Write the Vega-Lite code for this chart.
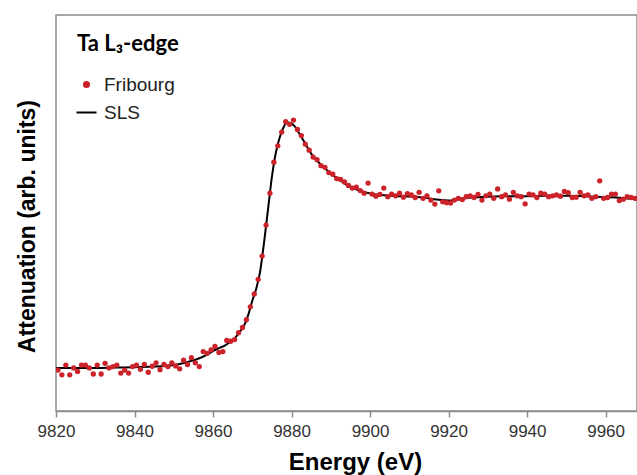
{
  "$schema": "https://vega.github.io/schema/vega-lite/v6.json",
  "width": 581,
  "height": 396,
  "autosize": {"type": "none"},
  "padding": {"left": 56, "top": 15, "right": 0, "bottom": 64},
  "background": "white",
  "config": {"view": {"stroke": "#8c8c8c", "strokeWidth": 1.5}, "font": "Liberation Sans"},
  "datasets": {
    "sls": [
      {"energy": 9820, "value": 0.0, "series": "SLS"},
      {"energy": 9825, "value": 0.0, "series": "SLS"},
      {"energy": 9830, "value": 0.0, "series": "SLS"},
      {"energy": 9835, "value": 0.002, "series": "SLS"},
      {"energy": 9840, "value": 0.004, "series": "SLS"},
      {"energy": 9845, "value": 0.008, "series": "SLS"},
      {"energy": 9848, "value": 0.012, "series": "SLS"},
      {"energy": 9850, "value": 0.017, "series": "SLS"},
      {"energy": 9852, "value": 0.026, "series": "SLS"},
      {"energy": 9854, "value": 0.038, "series": "SLS"},
      {"energy": 9856, "value": 0.052, "series": "SLS"},
      {"energy": 9858, "value": 0.072, "series": "SLS"},
      {"energy": 9860, "value": 0.098, "series": "SLS"},
      {"energy": 9861, "value": 0.11, "series": "SLS"},
      {"energy": 9862, "value": 0.12, "series": "SLS"},
      {"energy": 9863, "value": 0.13, "series": "SLS"},
      {"energy": 9864, "value": 0.145, "series": "SLS"},
      {"energy": 9865, "value": 0.163, "series": "SLS"},
      {"energy": 9866, "value": 0.185, "series": "SLS"},
      {"energy": 9867, "value": 0.215, "series": "SLS"},
      {"energy": 9868, "value": 0.25, "series": "SLS"},
      {"energy": 9869, "value": 0.31, "series": "SLS"},
      {"energy": 9870, "value": 0.39, "series": "SLS"},
      {"energy": 9871, "value": 0.46, "series": "SLS"},
      {"energy": 9872, "value": 0.56, "series": "SLS"},
      {"energy": 9873, "value": 0.73, "series": "SLS"},
      {"energy": 9874, "value": 0.92, "series": "SLS"},
      {"energy": 9875, "value": 1.11, "series": "SLS"},
      {"energy": 9876, "value": 1.25, "series": "SLS"},
      {"energy": 9877, "value": 1.34, "series": "SLS"},
      {"energy": 9878, "value": 1.4, "series": "SLS"},
      {"energy": 9879, "value": 1.425, "series": "SLS"},
      {"energy": 9880, "value": 1.42, "series": "SLS"},
      {"energy": 9881, "value": 1.398, "series": "SLS"},
      {"energy": 9882, "value": 1.36, "series": "SLS"},
      {"energy": 9883, "value": 1.322, "series": "SLS"},
      {"energy": 9884, "value": 1.282, "series": "SLS"},
      {"energy": 9885, "value": 1.245, "series": "SLS"},
      {"energy": 9886, "value": 1.215, "series": "SLS"},
      {"energy": 9887, "value": 1.192, "series": "SLS"},
      {"energy": 9888, "value": 1.17, "series": "SLS"},
      {"energy": 9889, "value": 1.15, "series": "SLS"},
      {"energy": 9890, "value": 1.13, "series": "SLS"},
      {"energy": 9892, "value": 1.095, "series": "SLS"},
      {"energy": 9894, "value": 1.064, "series": "SLS"},
      {"energy": 9896, "value": 1.042, "series": "SLS"},
      {"energy": 9898, "value": 1.025, "series": "SLS"},
      {"energy": 9900, "value": 1.014, "series": "SLS"},
      {"energy": 9903, "value": 1.004, "series": "SLS"},
      {"energy": 9906, "value": 0.999, "series": "SLS"},
      {"energy": 9910, "value": 0.996, "series": "SLS"},
      {"energy": 9914, "value": 0.988, "series": "SLS"},
      {"energy": 9917, "value": 0.978, "series": "SLS"},
      {"energy": 9920, "value": 0.972, "series": "SLS"},
      {"energy": 9922, "value": 0.978, "series": "SLS"},
      {"energy": 9925, "value": 0.988, "series": "SLS"},
      {"energy": 9930, "value": 0.995, "series": "SLS"},
      {"energy": 9935, "value": 0.997, "series": "SLS"},
      {"energy": 9940, "value": 0.998, "series": "SLS"},
      {"energy": 9945, "value": 1.0, "series": "SLS"},
      {"energy": 9950, "value": 1.0, "series": "SLS"},
      {"energy": 9955, "value": 0.997, "series": "SLS"},
      {"energy": 9960, "value": 0.993, "series": "SLS"},
      {"energy": 9965, "value": 0.985, "series": "SLS"},
      {"energy": 9968, "value": 0.978, "series": "SLS"}
    ],
    "fribourg": [
      {"energy": 9820.5, "value": -0.012, "series": "Fribourg"},
      {"energy": 9821.5, "value": -0.04, "series": "Fribourg"},
      {"energy": 9822.5, "value": 0.017, "series": "Fribourg"},
      {"energy": 9823.5, "value": -0.04, "series": "Fribourg"},
      {"energy": 9824.5, "value": 0.0, "series": "Fribourg"},
      {"energy": 9825.5, "value": -0.02, "series": "Fribourg"},
      {"energy": 9826.5, "value": 0.017, "series": "Fribourg"},
      {"energy": 9827.5, "value": 0.017, "series": "Fribourg"},
      {"energy": 9828.5, "value": 0.0, "series": "Fribourg"},
      {"energy": 9829.5, "value": -0.035, "series": "Fribourg"},
      {"energy": 9830.5, "value": 0.017, "series": "Fribourg"},
      {"energy": 9831.5, "value": -0.035, "series": "Fribourg"},
      {"energy": 9832.5, "value": 0.027, "series": "Fribourg"},
      {"energy": 9833.5, "value": 0.0, "series": "Fribourg"},
      {"energy": 9834.5, "value": 0.008, "series": "Fribourg"},
      {"energy": 9835.5, "value": 0.017, "series": "Fribourg"},
      {"energy": 9836.5, "value": -0.03, "series": "Fribourg"},
      {"energy": 9837.5, "value": -0.012, "series": "Fribourg"},
      {"energy": 9838.5, "value": -0.03, "series": "Fribourg"},
      {"energy": 9839.5, "value": 0.008, "series": "Fribourg"},
      {"energy": 9840.5, "value": 0.017, "series": "Fribourg"},
      {"energy": 9841.5, "value": -0.008, "series": "Fribourg"},
      {"energy": 9842.5, "value": 0.02, "series": "Fribourg"},
      {"energy": 9843.5, "value": -0.025, "series": "Fribourg"},
      {"energy": 9844.5, "value": 0.01, "series": "Fribourg"},
      {"energy": 9845.5, "value": 0.03, "series": "Fribourg"},
      {"energy": 9846.5, "value": -0.01, "series": "Fribourg"},
      {"energy": 9847.5, "value": 0.02, "series": "Fribourg"},
      {"energy": 9848.5, "value": 0.008, "series": "Fribourg"},
      {"energy": 9849.5, "value": 0.03, "series": "Fribourg"},
      {"energy": 9850.5, "value": 0.012, "series": "Fribourg"},
      {"energy": 9851.5, "value": -0.005, "series": "Fribourg"},
      {"energy": 9852.5, "value": 0.045, "series": "Fribourg"},
      {"energy": 9853.5, "value": 0.02, "series": "Fribourg"},
      {"energy": 9854.5, "value": 0.06, "series": "Fribourg"},
      {"energy": 9855.5, "value": 0.03, "series": "Fribourg"},
      {"energy": 9856.5, "value": 0.008, "series": "Fribourg"},
      {"energy": 9857.5, "value": 0.095, "series": "Fribourg"},
      {"energy": 9858.5, "value": 0.085, "series": "Fribourg"},
      {"energy": 9859.5, "value": 0.105, "series": "Fribourg"},
      {"energy": 9860.5, "value": 0.125, "series": "Fribourg"},
      {"energy": 9861.5, "value": 0.09, "series": "Fribourg"},
      {"energy": 9862.5, "value": 0.095, "series": "Fribourg"},
      {"energy": 9863.5, "value": 0.16, "series": "Fribourg"},
      {"energy": 9864.5, "value": 0.155, "series": "Fribourg"},
      {"energy": 9865.5, "value": 0.165, "series": "Fribourg"},
      {"energy": 9866.5, "value": 0.205, "series": "Fribourg"},
      {"energy": 9867.5, "value": 0.235, "series": "Fribourg"},
      {"energy": 9868.5, "value": 0.28, "series": "Fribourg"},
      {"energy": 9869.5, "value": 0.355, "series": "Fribourg"},
      {"energy": 9870.5, "value": 0.43, "series": "Fribourg"},
      {"energy": 9871.5, "value": 0.515, "series": "Fribourg"},
      {"energy": 9872.5, "value": 0.65, "series": "Fribourg"},
      {"energy": 9873.5, "value": 0.83, "series": "Fribourg"},
      {"energy": 9874.5, "value": 1.015, "series": "Fribourg"},
      {"energy": 9875.5, "value": 1.195, "series": "Fribourg"},
      {"energy": 9876.5, "value": 1.29, "series": "Fribourg"},
      {"energy": 9877.5, "value": 1.37, "series": "Fribourg"},
      {"energy": 9878.5, "value": 1.43, "series": "Fribourg"},
      {"energy": 9879.5, "value": 1.415, "series": "Fribourg"},
      {"energy": 9880.5, "value": 1.44, "series": "Fribourg"},
      {"energy": 9881.5, "value": 1.385, "series": "Fribourg"},
      {"energy": 9882.5, "value": 1.35, "series": "Fribourg"},
      {"energy": 9883.5, "value": 1.3, "series": "Fribourg"},
      {"energy": 9884.5, "value": 1.265, "series": "Fribourg"},
      {"energy": 9885.5, "value": 1.225, "series": "Fribourg"},
      {"energy": 9886.5, "value": 1.21, "series": "Fribourg"},
      {"energy": 9887.5, "value": 1.175, "series": "Fribourg"},
      {"energy": 9888.5, "value": 1.165, "series": "Fribourg"},
      {"energy": 9889.5, "value": 1.135, "series": "Fribourg"},
      {"energy": 9890.5, "value": 1.125, "series": "Fribourg"},
      {"energy": 9891.5, "value": 1.1, "series": "Fribourg"},
      {"energy": 9892.5, "value": 1.095, "series": "Fribourg"},
      {"energy": 9893.5, "value": 1.08, "series": "Fribourg"},
      {"energy": 9894.5, "value": 1.06, "series": "Fribourg"},
      {"energy": 9895.5, "value": 1.045, "series": "Fribourg"},
      {"energy": 9896.5, "value": 1.05, "series": "Fribourg"},
      {"energy": 9897.5, "value": 1.03, "series": "Fribourg"},
      {"energy": 9898.5, "value": 1.015, "series": "Fribourg"},
      {"energy": 9899.5, "value": 1.074, "series": "Fribourg"},
      {"energy": 9900.5, "value": 1.01, "series": "Fribourg"},
      {"energy": 9901.5, "value": 0.998, "series": "Fribourg"},
      {"energy": 9902.5, "value": 1.008, "series": "Fribourg"},
      {"energy": 9903.5, "value": 1.045, "series": "Fribourg"},
      {"energy": 9904.5, "value": 0.995, "series": "Fribourg"},
      {"energy": 9905.5, "value": 1.01, "series": "Fribourg"},
      {"energy": 9906.5, "value": 1.0, "series": "Fribourg"},
      {"energy": 9907.5, "value": 1.015, "series": "Fribourg"},
      {"energy": 9908.5, "value": 0.992, "series": "Fribourg"},
      {"energy": 9909.5, "value": 1.012, "series": "Fribourg"},
      {"energy": 9910.5, "value": 1.005, "series": "Fribourg"},
      {"energy": 9911.5, "value": 0.99, "series": "Fribourg"},
      {"energy": 9912.5, "value": 1.02, "series": "Fribourg"},
      {"energy": 9913.5, "value": 0.985, "series": "Fribourg"},
      {"energy": 9914.5, "value": 1.0, "series": "Fribourg"},
      {"energy": 9915.5, "value": 0.975, "series": "Fribourg"},
      {"energy": 9916.5, "value": 0.952, "series": "Fribourg"},
      {"energy": 9917.5, "value": 1.029, "series": "Fribourg"},
      {"energy": 9918.5, "value": 0.965, "series": "Fribourg"},
      {"energy": 9919.5, "value": 0.96, "series": "Fribourg"},
      {"energy": 9920.5, "value": 0.958, "series": "Fribourg"},
      {"energy": 9921.5, "value": 0.975, "series": "Fribourg"},
      {"energy": 9922.5, "value": 0.985, "series": "Fribourg"},
      {"energy": 9923.5, "value": 0.978, "series": "Fribourg"},
      {"energy": 9924.5, "value": 0.995, "series": "Fribourg"},
      {"energy": 9925.5, "value": 1.0, "series": "Fribourg"},
      {"energy": 9926.5, "value": 0.99, "series": "Fribourg"},
      {"energy": 9927.5, "value": 1.008, "series": "Fribourg"},
      {"energy": 9928.5, "value": 0.975, "series": "Fribourg"},
      {"energy": 9929.5, "value": 1.0, "series": "Fribourg"},
      {"energy": 9930.5, "value": 1.01, "series": "Fribourg"},
      {"energy": 9931.5, "value": 0.985, "series": "Fribourg"},
      {"energy": 9932.5, "value": 1.04, "series": "Fribourg"},
      {"energy": 9933.5, "value": 0.995, "series": "Fribourg"},
      {"energy": 9934.5, "value": 1.005, "series": "Fribourg"},
      {"energy": 9935.5, "value": 0.98, "series": "Fribourg"},
      {"energy": 9936.5, "value": 1.02, "series": "Fribourg"},
      {"energy": 9937.5, "value": 1.0, "series": "Fribourg"},
      {"energy": 9938.5, "value": 0.995, "series": "Fribourg"},
      {"energy": 9939.5, "value": 0.953, "series": "Fribourg"},
      {"energy": 9940.5, "value": 1.01, "series": "Fribourg"},
      {"energy": 9941.5, "value": 1.005, "series": "Fribourg"},
      {"energy": 9942.5, "value": 0.99, "series": "Fribourg"},
      {"energy": 9943.5, "value": 1.015, "series": "Fribourg"},
      {"energy": 9944.5, "value": 1.01, "series": "Fribourg"},
      {"energy": 9945.5, "value": 0.995, "series": "Fribourg"},
      {"energy": 9946.5, "value": 1.0, "series": "Fribourg"},
      {"energy": 9947.5, "value": 1.005, "series": "Fribourg"},
      {"energy": 9948.5, "value": 0.998, "series": "Fribourg"},
      {"energy": 9949.5, "value": 1.025, "series": "Fribourg"},
      {"energy": 9950.5, "value": 1.018, "series": "Fribourg"},
      {"energy": 9951.5, "value": 0.99, "series": "Fribourg"},
      {"energy": 9952.5, "value": 0.992, "series": "Fribourg"},
      {"energy": 9953.5, "value": 1.02, "series": "Fribourg"},
      {"energy": 9954.5, "value": 1.0, "series": "Fribourg"},
      {"energy": 9955.5, "value": 1.005, "series": "Fribourg"},
      {"energy": 9956.5, "value": 0.985, "series": "Fribourg"},
      {"energy": 9957.5, "value": 0.995, "series": "Fribourg"},
      {"energy": 9958.5, "value": 1.087, "series": "Fribourg"},
      {"energy": 9959.5, "value": 0.985, "series": "Fribourg"},
      {"energy": 9960.5, "value": 0.99, "series": "Fribourg"},
      {"energy": 9961.5, "value": 1.01, "series": "Fribourg"},
      {"energy": 9962.5, "value": 1.01, "series": "Fribourg"},
      {"energy": 9963.5, "value": 0.972, "series": "Fribourg"},
      {"energy": 9964.5, "value": 0.98, "series": "Fribourg"},
      {"energy": 9965.5, "value": 0.995, "series": "Fribourg"},
      {"energy": 9966.5, "value": 0.99, "series": "Fribourg"},
      {"energy": 9967.5, "value": 0.985, "series": "Fribourg"}
    ]
  },
  "encoding": {
    "x": {
      "field": "energy", "type": "quantitative",
      "scale": {"domain": [9820, 9968], "nice": false, "zero": false},
      "axis": {
        "title": "Energy (eV)", "titleFont": "Liberation Sans", "titleFontSize": 24, "titleFontWeight": "bold", "titleColor": "#000000",
        "titleX": 299, "titleY": 51, "titleBaseline": "middle",
        "values": [9820, 9840, 9860, 9880, 9900, 9920, 9940, 9960], "format": "d",
        "labelFont": "Liberation Sans", "labelFontSize": 17, "labelColor": "#333333", "labelPadding": 6, "labelFlush": false,
        "domainColor": "#8c8c8c", "domainWidth": 1.5, "tickColor": "#8c8c8c", "tickWidth": 1.5, "tickSize": 6, "grid": false
      }
    },
    "y": {
      "field": "value", "type": "quantitative",
      "scale": {"domain": [-0.25, 2.05], "nice": false, "zero": false},
      "axis": {
        "title": "Attenuation (arb. units)", "titleFont": "Liberation Sans", "titleFontSize": 23, "titleFontWeight": "bold", "titleColor": "#000000",
        "titleX": -29, "titleY": 211, "titleBaseline": "middle", "titleAlign": "center", "titleAngle": -90,
        "labels": false, "ticks": false, "domain": false, "grid": false
      }
    },
    "color": {
      "field": "series", "type": "nominal",
      "scale": {"domain": ["Fribourg", "SLS"], "range": ["#cc2229", "#000000"]},
      "legend": {
        "orient": "none", "legendX": 21, "legendY": 19, "padding": 0,
        "title": "Ta L₃-edge", "titleFont": "Lato", "titleFontSize": 22, "titleFontWeight": "bold", "titleColor": "#000000", "titlePadding": 19,
        "labelFont": "Liberation Sans", "labelFontSize": 19, "labelColor": "#222222", "labelOffset": 8,
        "symbolSize": 400, "rowPadding": 8,
        "encode": {
          "symbols": {
            "update": {
              "shape": {"signal": "datum.value === 'SLS' ? 'stroke' : 'circle'"},
              "size": {"signal": "datum.value === 'SLS' ? 400 : 26"},
              "fill": {"signal": "datum.value === 'SLS' ? 'transparent' : '#cc2229'"},
              "stroke": {"signal": "datum.value === 'SLS' ? '#000000' : 'transparent'"},
              "strokeWidth": {"value": 2},
              "opacity": {"value": 1}
            }
          }
        }
      }
    }
  },
  "layer": [
    {"data": {"name": "sls"}, "mark": {"type": "line", "interpolate": "monotone", "strokeWidth": 2, "clip": true}},
    {"data": {"name": "fribourg"}, "mark": {"type": "circle", "size": 28, "opacity": 1, "clip": true}}
  ]
}
